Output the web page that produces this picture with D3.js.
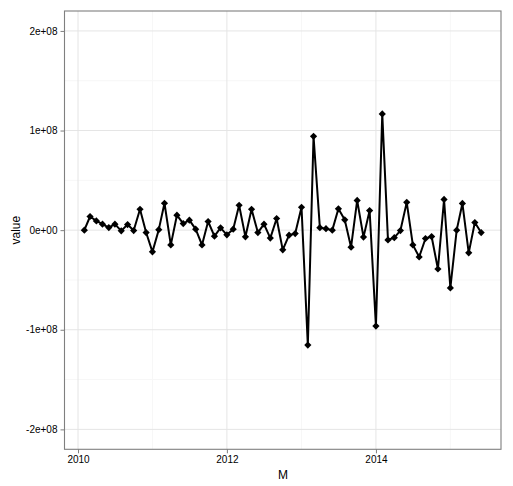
<!DOCTYPE html>
<html><head><meta charset="utf-8">
<script src="https://cdn.jsdelivr.net/npm/d3@7"></script>
<style>body{margin:0;background:#fff}svg{display:block}</style>
</head><body>
<script>
const startMonth = "2010-02";
const values = [0, 1.37e7, 0.93e7, 0.6e7, 0.26e7, 0.6e7, -0.07e7, 0.56e7, -0.04e7, 2.1e7,
  -0.24e7, -2.18e7, 0.05e7, 2.7e7, -1.48e7, 1.5e7, 0.66e7, 1.0e7, 0.1e7, -1.48e7,
  0.87e7, -0.6e7, 0.23e7, -0.47e7, 0.1e7, 2.5e7, -0.67e7, 2.1e7, -0.24e7, 0.6e7,
  -0.8e7, 1.17e7, -1.98e7, -0.5e7, -0.34e7, 2.3e7, -11.54e7, 9.42e7, 0.25e7, 0.15e7,
  0.0e7, 2.14e7, 1.04e7, -1.71e7, 2.98e7, -0.7e7, 1.97e7, -9.63e7, 11.67e7, -0.98e7,
  -0.76e7, -0.04e7, 2.79e7, -1.48e7, -2.69e7, -0.84e7, -0.64e7, -3.9e7, 3.08e7, -5.8e7,
  0.0e7, 2.68e7, -2.28e7, 0.77e7, -0.24e7];
const yTicks = [-2e8, -1e8, 0, 1e8, 2e8];
const yTickLabels = ["-2e+08", "-1e+08", "0e+00", "1e+08", "2e+08"];
const yMinor = [-1.5e8, -0.5e8, 0.5e8, 1.5e8];
const xTickYears = [2010, 2012, 2014];
const xMinorYears = [2011, 2013, 2015];

const parse = d3.timeParse("%Y-%m");
const d0 = parse(startMonth);
const data = values.map((v, i) => ({date: d3.timeMonth.offset(d0, i), value: v}));

const W = 513, H = 486;
const L = 64.5, R = 501, T = 11, B = 449.3;
const svg = d3.select("body").append("svg").attr("width", W).attr("height", H);

const xExt = d3.extent(data, d => d.date);
const span = xExt[1] - xExt[0];
const x = d3.scaleTime()
  .domain([new Date(+xExt[0] - span * 0.05), new Date(+xExt[1] + span * 0.05)])
  .range([L, R]);
const y = d3.scaleLinear().domain([-2.2e8, 2.2e8]).range([B, T]);

const g = svg.append("g");
// minor grid
g.selectAll(".ymin").data(yMinor).enter().append("line")
  .attr("x1", L).attr("x2", R).attr("y1", d => y(d)).attr("y2", d => y(d))
  .attr("stroke", "#f7f7f7").attr("stroke-width", 1);
g.selectAll(".xmin").data(xMinorYears).enter().append("line")
  .attr("y1", T).attr("y2", B).attr("x1", d => x(new Date(d, 0, 1))).attr("x2", d => x(new Date(d, 0, 1)))
  .attr("stroke", "#f7f7f7").attr("stroke-width", 1);
// major grid
g.selectAll(".ymaj").data(yTicks).enter().append("line")
  .attr("x1", L).attr("x2", R).attr("y1", d => y(d)).attr("y2", d => y(d))
  .attr("stroke", "#e5e5e5").attr("stroke-width", 1);
g.selectAll(".xmaj").data(xTickYears).enter().append("line")
  .attr("y1", T).attr("y2", B).attr("x1", d => x(new Date(d, 0, 1))).attr("x2", d => x(new Date(d, 0, 1)))
  .attr("stroke", "#e5e5e5").attr("stroke-width", 1);

// line
const line = d3.line().x(d => x(d.date)).y(d => y(d.value));
svg.append("path").datum(data).attr("d", line)
  .attr("fill", "none").attr("stroke", "#000").attr("stroke-width", 2).attr("stroke-linejoin", "round");
// points (diamonds)
const s = 3.6;
svg.selectAll(".pt").data(data).enter().append("path")
  .attr("d", d => { const cx = x(d.date), cy = y(d.value);
    return `M${cx},${cy - s}L${cx + s},${cy}L${cx},${cy + s}L${cx - s},${cy}Z`; })
  .attr("fill", "#000");

// border
svg.append("rect").attr("x", L).attr("y", T).attr("width", R - L).attr("height", B - T)
  .attr("fill", "none").attr("stroke", "#7f7f7f").attr("stroke-width", 1.1);

// axes
const yAxis = d3.axisLeft(y).tickValues(yTicks).tickSize(4).tickPadding(3)
  .tickFormat((d, i) => yTickLabels[yTicks.indexOf(d)]);
const ya = svg.append("g").attr("transform", `translate(${L},0)`).call(yAxis);
const xAxis = d3.axisBottom(x).tickValues(xTickYears.map(yr => new Date(yr, 0, 1))).tickSize(4).tickPadding(3)
  .tickFormat(d3.timeFormat("%Y"));
const xa = svg.append("g").attr("transform", `translate(0,${B})`).call(xAxis);
[ya, xa].forEach(a => {
  a.select(".domain").remove();
  a.selectAll(".tick line").attr("stroke", "#7f7f7f");
  a.selectAll(".tick text").attr("fill", "#000").style("font-family", "Liberation Sans, Arial, sans-serif").style("font-size", "10px");
});

svg.append("text").attr("x", 283).attr("y", 479).attr("text-anchor", "middle")
  .style("font-family", "Liberation Sans, Arial, sans-serif").style("font-size", "12px").text("M");
svg.append("text").attr("transform", `translate(20,${(T + B) / 2}) rotate(-90)`).attr("text-anchor", "middle")
  .style("font-family", "Liberation Sans, Arial, sans-serif").style("font-size", "12px").text("value");
</script>
</body></html>
